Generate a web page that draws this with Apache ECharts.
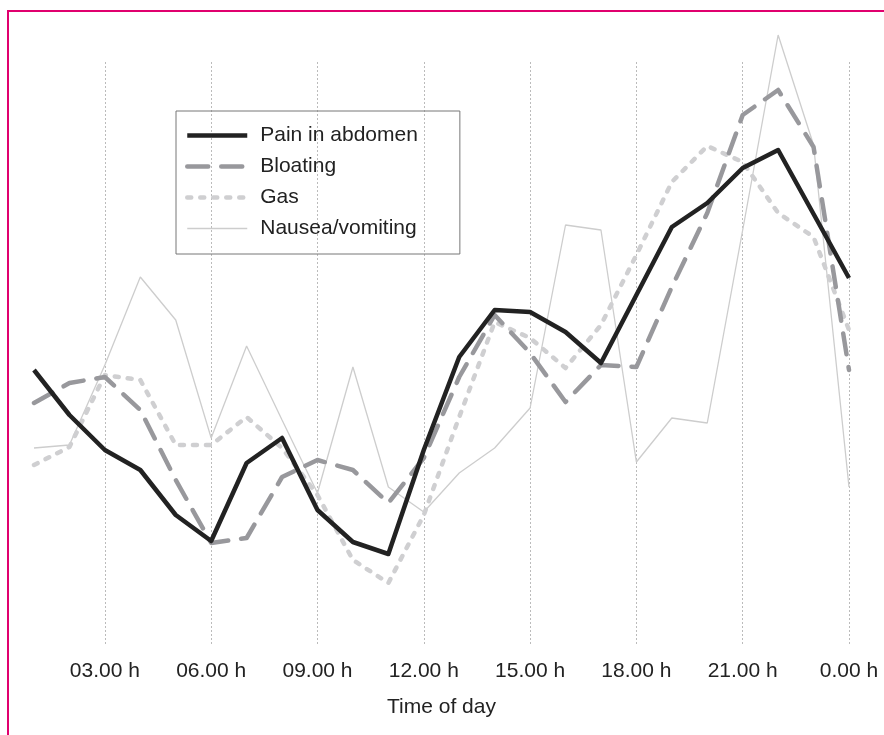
<!DOCTYPE html>
<html>
<head>
<meta charset="utf-8">
<script src="https://cdn.jsdelivr.net/npm/echarts@6/dist/echarts.min.js"></script>
<style>
html,body{margin:0;padding:0;background:#fff;}
#chart{width:884px;height:735px;}
</style>
</head>
<body>
<div id="chart"></div>
<script>
// Hour of day categories (01.00 h ... 0.00 h)
var categories = ["01.00 h","02.00 h","03.00 h","04.00 h","05.00 h","06.00 h","07.00 h","08.00 h",
  "09.00 h","10.00 h","11.00 h","12.00 h","13.00 h","14.00 h","15.00 h","16.00 h",
  "17.00 h","18.00 h","19.00 h","20.00 h","21.00 h","22.00 h","23.00 h","0.00 h"];
// Relative symptom frequency (arbitrary units)
var painInAbdomen = [275,230,195,175,130,104,182,207,135,103,91,195,288,335,333,313,282,350,418,442,477,495,431,367];
var bloating      = [242,262,268,235,165,102,107,168,185,175,142,187,268,330,292,243,280,278,358,432,530,555,498,275];
var gas           = [180,198,270,265,200,200,228,197,150,85,62,130,228,323,307,277,320,390,463,499,483,432,408,315];
var nausea        = [197,200,280,368,325,207,299,225,152,278,158,133,172,197,237,420,415,183,227,222,415,610,500,158];
var seriesNames = ["Pain in abdomen","Bloating","Gas","Nausea/vomiting"];
var axisTitle = "Time of day";

var chart = echarts.init(document.getElementById('chart'), null, {renderer:'canvas'});
var font = "'Liberation Sans', Arial, Helvetica, sans-serif";
var every3 = function(idx){ return (idx + 1) % 3 === 0; };

chart.setOption({
  animation: false,
  backgroundColor: '#ffffff',
  grid: {left: 34, right: 35, top: 62, bottom: 90, containLabel: false},
  legend: {
    orient: 'vertical',
    left: 176, top: 111,
    padding: [14, 42, 15, 9],
    borderColor: '#777777', borderWidth: 1,
    itemWidth: 60, itemHeight: 14, itemGap: 10,
    itemStyle: {opacity: 0},
    lineStyle: {width: 'inherit'},
    textStyle: {fontFamily: font, fontSize: 21, color: '#222222', lineHeight: 21, padding: [0,0,0,8]},
    data: seriesNames
  },
  xAxis: {
    type: 'category',
    data: categories,
    boundaryGap: false,
    axisLine: {show: false},
    axisTick: {show: false},
    axisLabel: {interval: every3, margin: 16, fontFamily: font, fontSize: 21, color: '#222222'},
    splitLine: {show: true, interval: every3, lineStyle: {color: '#bbbbbb', width: 1, type: [2,2]}},
    name: axisTitle, nameLocation: 'middle', nameGap: 52,
    nameTextStyle: {fontFamily: font, fontSize: 21, color: '#222222'}
  },
  yAxis: {
    type: 'value', min: 0, max: 583,
    show: false, splitLine: {show: false}
  },
  series: [
    {name: seriesNames[3], type: 'line', data: nausea, symbol: 'none', clip: false, z: 1,
     lineStyle: {color: '#cdcdcd', width: 1.3}, itemStyle: {color: '#cdcdcd'}},
    {name: seriesNames[2], type: 'line', data: gas, symbol: 'none', clip: false, z: 2,
     lineStyle: {color: '#cfcfd1', width: 4.5, type: [4,9], cap: 'round', join: 'round'}, itemStyle: {color: '#cfcfd1'}},
    {name: seriesNames[1], type: 'line', data: bloating, symbol: 'none', clip: false, z: 3,
     lineStyle: {color: '#98989c', width: 4.5, type: [21,13], cap: 'round', join: 'round'}, itemStyle: {color: '#98989c'}},
    {name: seriesNames[0], type: 'line', data: painInAbdomen, symbol: 'none', clip: false, z: 4,
     lineStyle: {color: '#222222', width: 4.5, join: 'round'}, itemStyle: {color: '#222222'}}
  ],
  graphic: [
    {type: 'line', shape: {x1: 8, y1: 11, x2: 884, y2: 11}, style: {stroke: '#e0006e', lineWidth: 2}, z: 100},
    {type: 'line', shape: {x1: 8, y1: 10, x2: 8, y2: 735}, style: {stroke: '#e0006e', lineWidth: 2}, z: 100}
  ]
});
</script>
</body>
</html>
